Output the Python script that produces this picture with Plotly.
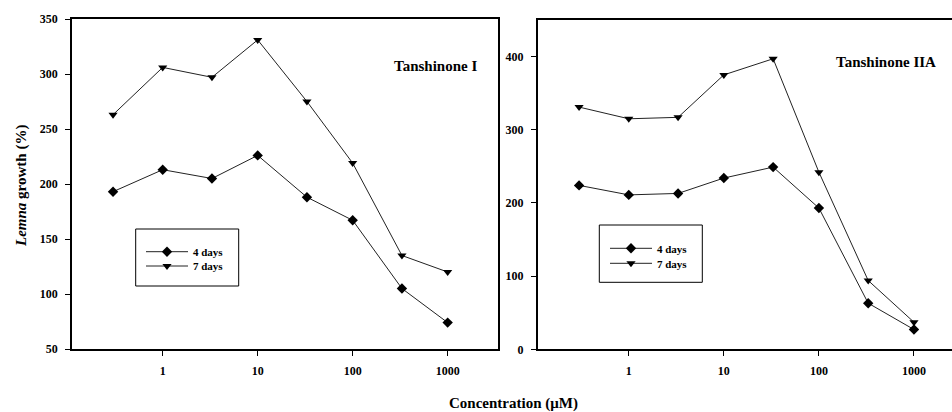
import plotly.graph_objects as go

# ---- data ----
conc = [0.3, 1, 3.3, 10, 33, 100, 330, 1000]
t1_4days = [193, 213, 205, 226, 188, 167, 105, 74]
t1_7days = [263, 306, 297, 331, 275, 219, 135, 120]
t2_4days = [224, 211, 213, 234, 249, 193, 63, 27]
t2_7days = [331, 315, 317, 375, 397, 242, 94, 37]
xticks = [1, 10, 100, 1000]
xticklabels = ["1", "10", "100", "1000"]
y1ticks = [50, 100, 150, 200, 250, 300, 350]
y2ticks = [0, 100, 200, 300, 400]
series_names = ["4 days", "7 days"]
panel_titles = ["Tanshinone I", "Tanshinone IIA"]

W, H = 952, 412
FONT = "Liberation Serif"
BOLD = dict(family=FONT, color="black", weight="bold")

def px_x(p):
    return p / W

def px_y(p):
    return (H - p) / H

fig = go.Figure()

line_style = dict(color="#222222", width=1)
sym = ["diamond", "triangle-down"]
msize = [8, 8]

panels = [
    ("x", "y", [t1_4days, t1_7days], ["legend", "legend2"]),
    ("x2", "y2", [t2_4days, t2_7days], ["legend3", "legend4"]),
]
for xa, ya, data, legs in panels:
    for i, vals in enumerate(data):
        fig.add_trace(go.Scatter(
            x=conc, y=vals, mode="lines+markers", name=series_names[i],
            xaxis=xa, yaxis=ya, legend=legs[i],
            line=line_style,
            marker=dict(symbol=sym[i], size=msize[i], color="black"),
        ))

axis_common = dict(
    type="log", showgrid=False, zeroline=False, showline=True, automargin=False,
    linecolor="black", linewidth=1.5, ticks="outside", ticklen=5,
    tickcolor="black", tickwidth=1.2,
    tickfont=dict(family=FONT, size=12, color="black", weight="bold"),
    tickvals=xticks, ticktext=xticklabels, ticklabelstandoff=5,
)
yaxis_common = dict(
    showgrid=False, zeroline=False, showline=True, automargin=False,
    linecolor="black", linewidth=1.5, ticks="outside", ticklen=5,
    tickcolor="black", tickwidth=1.2,
    tickfont=dict(family=FONT, size=12, color="black", weight="bold"),
    ticklabelstandoff=5,
)

fig.update_layout(
    width=W, height=H,
    margin=dict(l=0, r=0, t=0, b=0, pad=0, autoexpand=False),
    paper_bgcolor="white", plot_bgcolor="white",
    xaxis=dict(axis_common, domain=[px_x(72), px_x(498)],
               range=[-0.955, 3.53], mirror=True, anchor="y"),
    yaxis=dict(yaxis_common, domain=[px_y(349), px_y(19)],
               range=[50, 350], tickvals=y1ticks, mirror=True, anchor="x"),
    xaxis2=dict(axis_common, domain=[px_x(537.7), 1.0],
                range=[-0.958, 3.40], mirror=True, anchor="y2"),
    yaxis2=dict(yaxis_common, domain=[px_y(349.3), px_y(20)],
                range=[0, 450], tickvals=y2ticks, mirror=False, anchor="x2"),
)

leg_font = dict(family=FONT, size=11, color="black", weight="bold")
leg_common = dict(bgcolor="rgba(0,0,0,0)", borderwidth=0, font=leg_font,
                  xanchor="left", yanchor="middle", itemwidth=42)
fig.update_layout(
    showlegend=True,
    legend=dict(leg_common, x=px_x(141), y=px_y(251.7)),
    legend2=dict(leg_common, x=px_x(141), y=px_y(266)),
    legend3=dict(leg_common, x=px_x(605), y=px_y(248.3)),
    legend4=dict(leg_common, x=px_x(605), y=px_y(263.3)),
)

# legend boxes
for (x0, y0, x1, y1) in [(135.7, 229, 238.7, 286), (599.3, 225, 702.3, 282.3)]:
    fig.add_shape(type="rect", xref="paper", yref="paper",
                  x0=px_x(x0), x1=px_x(x1), y0=px_y(y1), y1=px_y(y0),
                  line=dict(color="black", width=1), fillcolor="rgba(0,0,0,0)")

annotations = [
    dict(text=panel_titles[0], x=px_x(435), y=px_y(66), font=dict(BOLD, size=15)),
    dict(text=panel_titles[1], x=px_x(885.5), y=px_y(62), font=dict(BOLD, size=15)),
    dict(text="<i>Lemna</i> growth (%)", x=px_x(21), y=px_y(186), textangle=-90,
         font=dict(BOLD, size=15)),
    dict(text="Concentration (μM)", x=px_x(513), y=px_y(403), font=dict(BOLD, size=15)),
]
for a in annotations:
    fig.add_annotation(xref="paper", yref="paper", showarrow=False,
                       xanchor="center", yanchor="middle", **a)

fig.write_html(
    "out.html",
    config={"displayModeBar": False},
    post_script="document.body.style.margin='0';document.body.style.overflow='hidden';",
)
